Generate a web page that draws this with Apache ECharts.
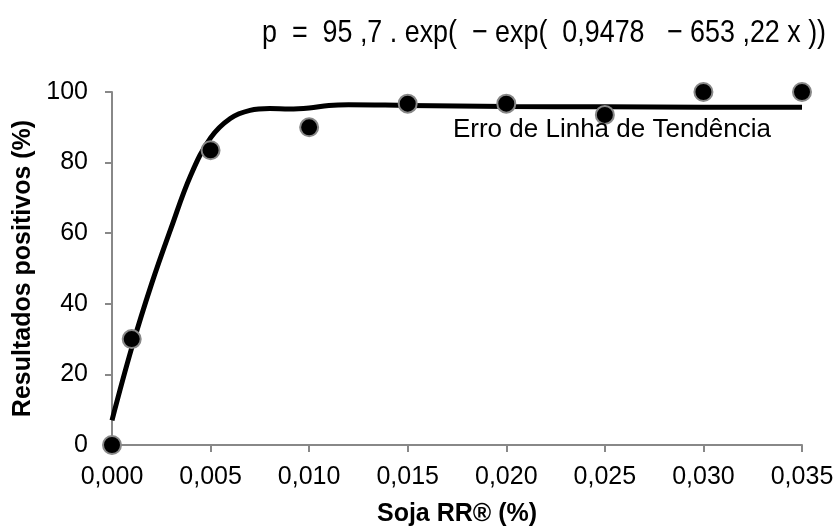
<!DOCTYPE html>
<html>
<head>
<meta charset="utf-8">
<script src="https://cdn.jsdelivr.net/npm/echarts@6/dist/echarts.min.js"></script>
<style>html,body{margin:0;padding:0;background:#fff}#c{width:836px;height:528px}</style>
</head>
<body>
<div id="c"></div>
<script>
// Observed data points
const obsX = [0, 0.001, 0.005, 0.010, 0.015, 0.020, 0.025, 0.030, 0.035];
const obsY = [0, 30, 83.5, 90, 96.7, 96.7, 93.5, 100, 100];
// Trend line
const lineX = [0, 0.001, 0.002, 0.003, 0.004, 0.005, 0.006, 0.007, 0.008, 0.009, 0.010, 0.011, 0.012, 0.015, 0.020, 0.025, 0.030, 0.035];
const lineY = [7, 27.5, 45.5, 61.5, 76.5, 87, 92.5, 94.8, 95.3, 95.2, 95.5, 96.2, 96.4, 96.2, 95.9, 95.8, 95.7, 95.7];
const xTicks = [0, 0.005, 0.010, 0.015, 0.020, 0.025, 0.030, 0.035];
const yTicks = [0, 20, 40, 60, 80, 100];
const equation = 'p  =  95 ,7 . exp(  − exp(  0,9478   − 653 ,22 x ))';
const lineLabel = 'Erro de Linha de Tendência';

const chart = echarts.init(document.getElementById('c'));
const font = '"Liberation Sans", Arial, sans-serif';
chart.setOption({
  animation: false,
  grid: {left: 112, right: 34, top: 92, bottom: 83, containLabel: false, outerBoundsMode: 'none'},
  graphic: [{
    type: 'text', x: 262, y: 33, scaleX: 0.84,
    style: {text: equation, x: 0, y: 0, textAlign: 'left', textVerticalAlign: 'middle',
      font: '32px "Liberation Sans", Arial, sans-serif', fill: '#000'}
  }],
  xAxis: {
    type: 'value', min: 0, max: 0.035, interval: 0.005,
    name: 'Soja RR® (%)', nameLocation: 'middle', nameGap: 57,
    nameTextStyle: {fontFamily: font, fontSize: 25, fontWeight: 'bold', color: '#000'},
    axisLine: {lineStyle: {color: '#888', width: 2}},
    axisTick: {show: true, length: 7, lineStyle: {color: '#888', width: 2}},
    splitLine: {show: false},
    axisLabel: {fontFamily: font, fontSize: 25, color: '#000', margin: 20,
      formatter: v => v.toFixed(3).replace('.', ',')}
  },
  yAxis: {
    type: 'value', min: 0, max: 100, interval: 20,
    name: 'Resultados positivos (%)', nameLocation: 'middle', nameGap: 76,
    nameTextStyle: {fontFamily: font, fontSize: 25, fontWeight: 'bold', color: '#000'},
    axisLine: {show: true, lineStyle: {color: '#888', width: 2}},
    axisTick: {show: true, length: 7, lineStyle: {color: '#888', width: 2}},
    splitLine: {show: false},
    axisLabel: {fontFamily: font, fontSize: 25, color: '#000', margin: 24}
  },
  series: [
    {
      type: 'line', smooth: 0.4, symbol: 'none',
      data: lineX.map((x, i) => [x, lineY[i]]),
      lineStyle: {color: '#000', width: 5},
      z: 2,
      markPoint: {
        symbol: 'rect', symbolSize: 0,
        label: {show: true, formatter: lineLabel, fontFamily: font, fontSize: 26, color: '#000', position: 'inside'},
        data: [{coord: [0.02536, 89.2], value: 0}]
      }
    },
    {
      type: 'scatter', symbol: 'circle', symbolSize: 18,
      data: obsX.map((x, i) => [x, obsY[i]]),
      itemStyle: {color: '#000', opacity: 1, borderColor: '#888', borderWidth: 2},
      z: 3
    }
  ]
});
</script>
</body>
</html>
